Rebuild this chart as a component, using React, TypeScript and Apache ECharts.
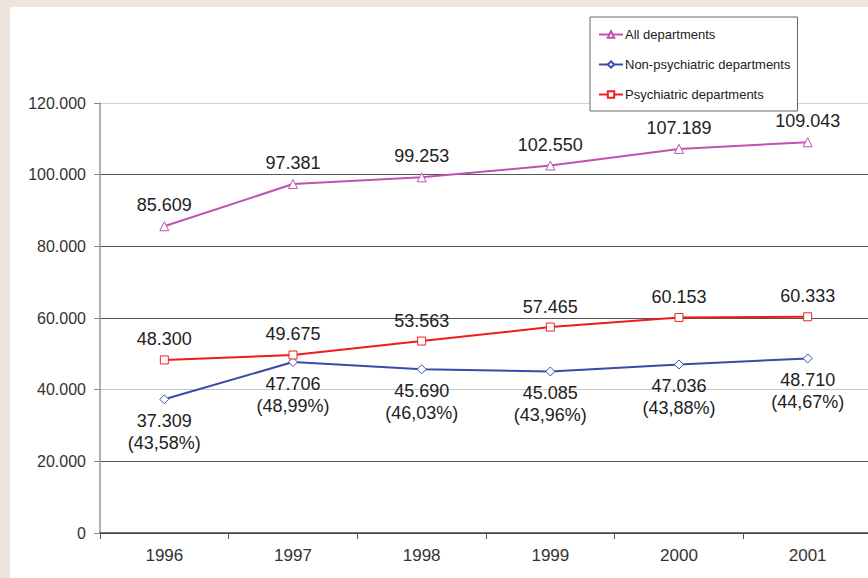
import React, { useEffect, useRef } from "react";
import * as echarts from "echarts";

const years = ["1996", "1997", "1998", "1999", "2000", "2001"];
const allDepartments = [85609, 97381, 99253, 102550, 107189, 109043];
const nonPsychiatric = [37309, 47706, 45690, 45085, 47036, 48710];
const nonPsychShares = ["43,58%", "48,99%", "46,03%", "43,96%", "43,88%", "44,67%"];
const psychiatric = [48300, 49675, 53563, 57465, 60153, 60333];

const fmt = (v: number) => String(Math.round(v)).replace(/\B(?=(\d{3})+(?!\d))/g, ".");

const FONT = "'Liberation Sans', Arial, sans-serif";

export default function App() {
  const ref = useRef<HTMLDivElement>(null);
  useEffect(() => {
    if (!ref.current) return;
    const chart = echarts.init(ref.current, undefined, { renderer: "svg" });
    const labelStyle = { fontSize: 18, color: "#222", fontFamily: FONT };
    chart.setOption({
      animation: false,
      backgroundColor: "#ffffff",
      textStyle: { fontFamily: FONT },
      legend: {
        orient: "vertical",
        left: 580,
        top: 10,
        padding: [10, 7, 9, 8],
        itemGap: 15,
        itemWidth: 24,
        itemHeight: 8,
        borderColor: "#666",
        borderWidth: 1,
        backgroundColor: "#fff",
        textStyle: { fontSize: 13, lineHeight: 15, color: "#222", fontFamily: FONT, padding: [0, 0, 0, -3] },
        data: ["All departments", "Non-psychiatric departments", "Psychiatric departments"],
      },
      grid: { left: 90, right: 8, top: 96, bottom: 45 },
      xAxis: {
        type: "category",
        data: years,
        boundaryGap: true,
        axisLine: { lineStyle: { color: "#444", width: 1.5 } },
        axisTick: { show: true, length: 6, lineStyle: { color: "#555" } },
        axisLabel: { fontSize: 17, color: "#333", margin: 14, fontFamily: FONT },
      },
      yAxis: {
        type: "value",
        min: 0,
        max: 120000,
        interval: 20000,
        axisLine: { show: true, lineStyle: { color: "#999", width: 1.5 } },
        axisTick: { show: true, length: 6, lineStyle: { color: "#888" } },
        axisLabel: { fontSize: 16, color: "#333", margin: 14, fontFamily: FONT, formatter: (v: number) => fmt(v) },
        splitLine: {
          lineStyle: { color: ["#444", "#555", "#c8c8c8", "#555", "#555", "#555", "#d0d0d0"], width: 1 },
        },
      },
      series: [
        {
          name: "All departments",
          type: "line",
          data: allDepartments,
          symbol: "triangle",
          symbolSize: 9,
          itemStyle: { color: "#fff", borderColor: "#c050b4", borderWidth: 1 },
          lineStyle: { color: "#c050b4", width: 2 },
          label: { show: true, position: "top", distance: 7, ...labelStyle, formatter: (p: any) => fmt(p.value) },
        },
        {
          name: "Non-psychiatric departments",
          type: "line",
          data: nonPsychiatric,
          symbol: "diamond",
          symbolSize: 9,
          itemStyle: { color: "#fff", borderColor: "#4050b0", borderWidth: 1 },
          lineStyle: { color: "#3b4aa8", width: 2 },
          label: {
            show: true,
            position: "bottom",
            distance: 6,
            lineHeight: 22,
            ...labelStyle,
            formatter: (p: any) => fmt(p.value) + "\n(" + nonPsychShares[p.dataIndex] + ")",
          },
        },
        {
          name: "Psychiatric departments",
          type: "line",
          data: psychiatric,
          symbol: "rect",
          symbolSize: 8,
          itemStyle: { color: "#fff", borderColor: "#f02020", borderWidth: 1 },
          lineStyle: { color: "#f01c1c", width: 2 },
          label: { show: true, position: "top", distance: 7, ...labelStyle, formatter: (p: any) => fmt(p.value) },
        },
      ],
    });
    return () => chart.dispose();
  }, []);
  return (
    <div style={{ position: "fixed", left: 0, top: 0, right: 0, bottom: 0, background: "#eee5de", overflow: "hidden" }}>
      <div ref={ref} style={{ position: "absolute", left: 10, top: 7, width: 870, height: 571 }} />
    </div>
  );
}
